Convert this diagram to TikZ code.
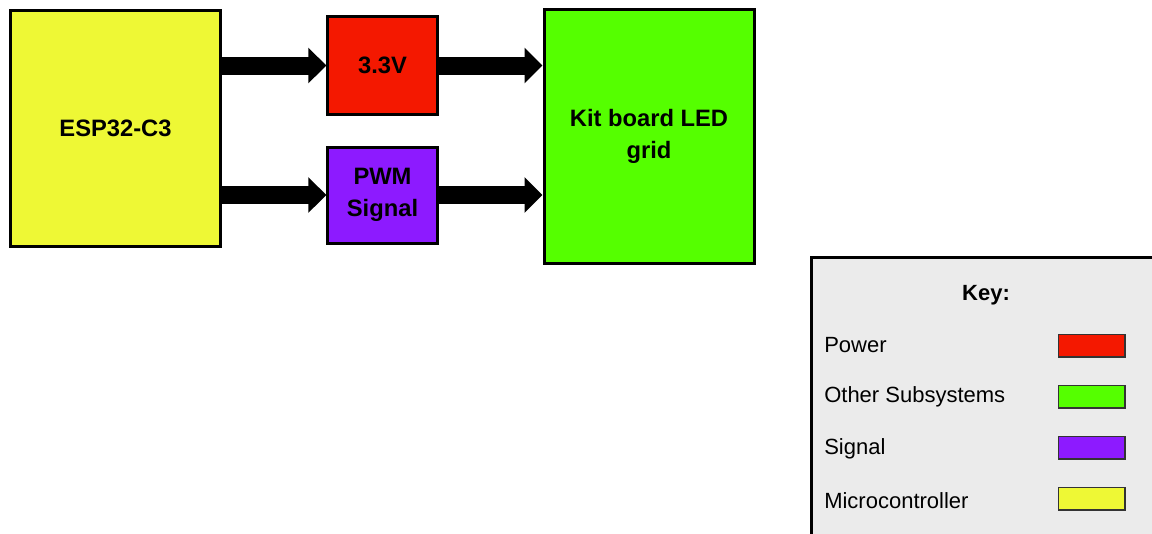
\documentclass[tikz,border=0pt]{standalone}
\usepackage{fontspec}
\setmainfont{Liberation Sans}
\usetikzlibrary{arrows.meta}
\definecolor{cyel}{HTML}{EEF835}
\definecolor{cred}{HTML}{F41800}
\definecolor{cpur}{HTML}{8D1AFF}
\definecolor{cgrn}{HTML}{55FF00}
\definecolor{ckey}{HTML}{EBEBEB}
\tikzset{
  blk/.style={draw=black, line width=2.25pt, inner sep=0pt, align=center,
    font=\fontsize{17.8}{23.5}\selectfont\bfseries},
  flow/.style={line width=13.5pt, -{Triangle[length=13.5pt, width=26pt]}},
  keytxt/.style={anchor=west, inner sep=0pt, font=\fontsize{16.5}{20}\selectfont},
  swatch/.style={draw=black!80, line width=1pt, minimum width=50pt, minimum height=17pt, inner sep=0pt},
}
\begin{document}
\begin{tikzpicture}[x=0.75pt, y=-0.75pt]
\useasboundingbox (0,0) rectangle (1152,533);
\clip (0,0) rectangle (1152,533);
\node[blk, fill=cyel, minimum width=158pt, minimum height=177pt] (esp) at (115.5,128) {ESP32-C3};
\node[blk, fill=cred, minimum width=82pt, minimum height=73pt] (v33) at (382.5,65.5) {3.3V};
\node[blk, fill=cpur, minimum width=82pt, minimum height=72pt] (pwm) at (382.5,195) {PWM\\Signal};
\node[blk, fill=cgrn, minimum width=157.5pt, minimum height=190pt] (kit) at (649,136.5) {Kit board LED\\grid};
\draw[flow] (v33.west -| esp.east) -- (v33.west);
\draw[flow] (pwm.west -| esp.east) -- (pwm.west);
\draw[flow] (v33.east) -- (v33.east -| kit.west);
\draw[flow] (pwm.east) -- (pwm.east -| kit.west);
% key
\node[draw=black, line width=2.25pt, fill=ckey, minimum width=270pt, minimum height=230pt, anchor=north west, inner sep=0pt] (key) at (810,256) {};
\node[inner sep=0pt, font=\fontsize{16.5}{20}\selectfont\bfseries] (keyt) at (986,295) {Key:};
\node[keytxt] (k1) at (824,345) {Power};
\node[keytxt] (k2) at (824,397) {Other Subsystems};
\node[keytxt] (k3) at (824,449) {Signal};
\node[keytxt] (k4) at (824,501) {Microcontroller};
\node[swatch, fill=cred] (s1) at (1091.5,345.5) {};
\node[swatch, fill=cgrn] (s2) at (1091.5,396.5) {};
\node[swatch, fill=cpur] (s3) at (1091.5,447.5) {};
\node[swatch, fill=cyel] (s4) at (1091.5,498.5) {};
\end{tikzpicture}
\end{document}
